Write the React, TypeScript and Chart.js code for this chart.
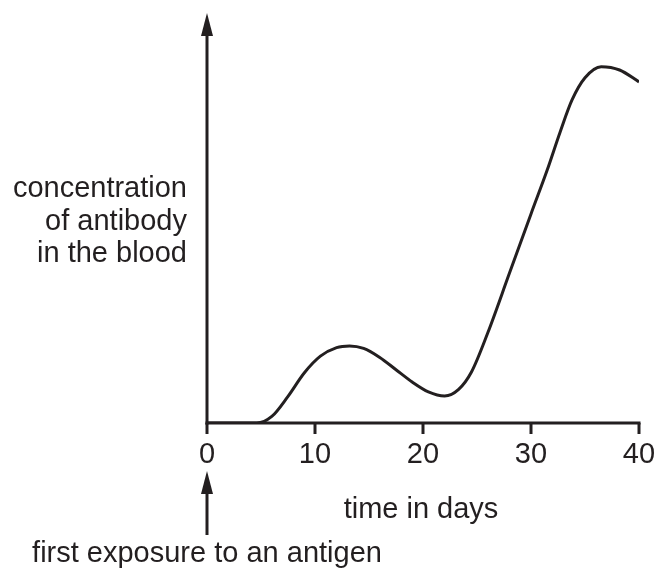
import React, { useEffect, useRef } from "react";
import { Chart, registerables } from "chart.js";

Chart.register(...registerables);

// ---- data ----
const days = [0, 4.6, 6, 7.5, 9, 10.5, 12, 13.2, 14.5, 16, 17.5, 19, 20.5, 22, 23.3, 24.5, 26, 28, 30, 31.5, 32.7, 33.8, 35, 36.5, 38.2, 40];
const concentration = [0, 0, 1.6, 6.5, 12.2, 16.3, 18.4, 18.8, 18.2, 16.0, 13.0, 10.0, 7.6, 6.6, 8.2, 12.5, 22, 36.5, 51, 61.7, 71, 78.8, 84.2, 86.9, 86.1, 83.2];
const xTicks = [0, 10, 20, 30, 40];
const xTickLabels = ["0", "10", "20", "30", "40"];
const yLabelLines = ["concentration", "of antibody", "in the blood"];
const xTitle = "time in days";
const exposureLabel = "first exposure to an antigen";
const exposureDay = 0;

const INK = "#231f20";
const FONT = '29px "Liberation Sans", Arial, Helvetica, sans-serif';

function arrowUp(ctx: CanvasRenderingContext2D, x: number, tipY: number, h: number, w: number) {
  ctx.beginPath();
  ctx.moveTo(x, tipY);
  ctx.lineTo(x + w / 2, tipY + h);
  ctx.lineTo(x - w / 2, tipY + h);
  ctx.closePath();
  ctx.fill();
}

const axesPlugin = {
  id: "axesArrows",
  afterDatasetsDraw(chart: any) {
    const { ctx, chartArea } = chart;
    const xs = chart.scales.x;
    const ys = chart.scales.y;
    const x0 = xs.getPixelForValue(xTicks[0]);
    const xEnd = xs.getPixelForValue(xTicks[xTicks.length - 1]);
    const y0 = ys.getPixelForValue(0);
    const top = chartArea.top;
    ctx.save();
    ctx.strokeStyle = INK;
    ctx.fillStyle = INK;
    ctx.lineWidth = 3;
    ctx.lineCap = "butt";

    // y axis with arrow
    ctx.beginPath();
    ctx.moveTo(x0, y0 + 1.5);
    ctx.lineTo(x0, top + 20);
    ctx.stroke();
    arrowUp(ctx, x0, top, 23, 12);

    // x axis
    ctx.beginPath();
    ctx.moveTo(x0 - 1.5, y0);
    ctx.lineTo(xEnd + 1.5, y0);
    ctx.stroke();

    // ticks + labels
    ctx.font = FONT;
    ctx.textAlign = "center";
    ctx.textBaseline = "alphabetic";
    xTicks.forEach((t, i) => {
      const px = xs.getPixelForValue(t);
      ctx.beginPath();
      ctx.moveTo(px, y0);
      ctx.lineTo(px, y0 + 11);
      ctx.stroke();
      ctx.fillText(xTickLabels[i], px, y0 + 40);
    });

    // x title
    ctx.fillText(xTitle, (x0 + xEnd) / 2 - 2, y0 + 95);

    // y title (right aligned, three lines)
    ctx.textAlign = "right";
    yLabelLines.forEach((line, i) => {
      ctx.fillText(line, x0 - 20, 197 + i * 32.5);
    });

    // exposure arrow + label
    const ex = xs.getPixelForValue(exposureDay);
    ctx.lineWidth = 3;
    ctx.beginPath();
    ctx.moveTo(ex, y0 + 112);
    ctx.lineTo(ex, y0 + 66);
    ctx.stroke();
    arrowUp(ctx, ex, y0 + 48, 23, 12);
    ctx.textAlign = "center";
    ctx.fillText(exposureLabel, ex, y0 + 139);

    ctx.restore();
  },
};

export default function App() {
  const ref = useRef<HTMLCanvasElement>(null);
  useEffect(() => {
    if (!ref.current) return;
    const chart = new Chart(ref.current, {
      type: "line",
      data: {
        datasets: [
          {
            data: days.map((d, i) => ({ x: d, y: concentration[i] })),
            borderColor: INK,
            borderWidth: 3,
            pointRadius: 0,
            cubicInterpolationMode: "monotone",
            fill: false,
          },
        ],
      },
      options: {
        animation: false,
        responsive: false,
        devicePixelRatio: 1,
        layout: { padding: { left: 207, right: 19, top: 13, bottom: 147 } },
        plugins: { legend: { display: false }, tooltip: { enabled: false } },
        scales: {
          x: { type: "linear", min: 0, max: 40, display: false },
          y: { type: "linear", min: 0, max: 100, display: false },
        },
      },
      plugins: [axesPlugin],
    } as any);
    return () => chart.destroy();
  }, []);
  return (
    <div style={{ position: "absolute", left: 0, top: 0, width: 658, height: 570, background: "#fff" }}>
      <canvas ref={ref} width={658} height={570} style={{ display: "block" }} />
    </div>
  );
}
